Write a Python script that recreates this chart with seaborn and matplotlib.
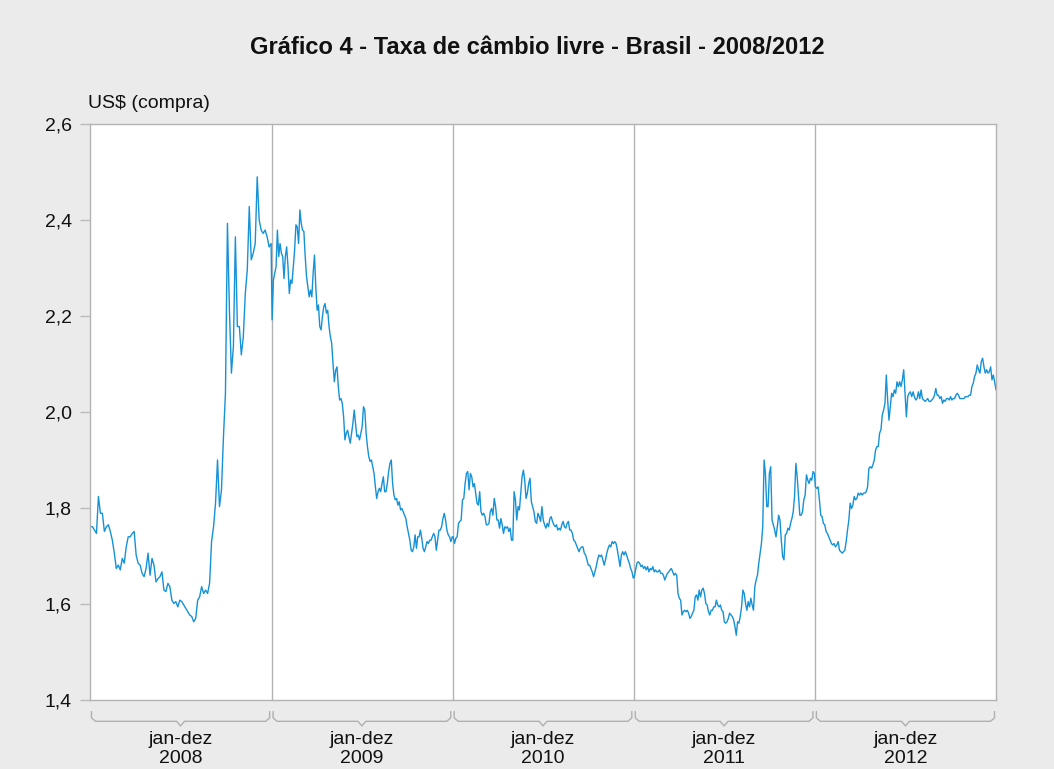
import numpy as np
import pandas as pd
import matplotlib
matplotlib.use("Agg")
import matplotlib.pyplot as plt
import seaborn as sns

# ---------------- data (R$/US$, compra) ----------------
years = [2008, 2009, 2010, 2011, 2012]
year_labels = ["2008", "2009", "2010", "2011", "2012"]
period_label = "jan-dez"

rate_2008 = [1.761, 1.761, 1.754, 1.747, 1.824, 1.789, 1.789, 1.751, 1.761, 1.765,
             1.751, 1.733, 1.706, 1.674, 1.681, 1.671, 1.695, 1.685, 1.719, 1.740,
             1.740, 1.747, 1.751, 1.702, 1.685, 1.681, 1.664, 1.657, 1.674, 1.706,
             1.660, 1.695, 1.681, 1.646, 1.653, 1.657, 1.667, 1.629, 1.626, 1.643,
             1.636, 1.608, 1.601, 1.605, 1.594, 1.608, 1.605, 1.598, 1.591, 1.584,
             1.577, 1.574, 1.563, 1.570, 1.608, 1.615, 1.636, 1.622, 1.629, 1.622,
             1.643, 1.730, 1.761, 1.810, 1.900, 1.803, 1.838, 1.949, 2.039, 2.393,
             2.212, 2.081, 2.136, 2.365, 2.178, 2.178, 2.119, 2.157, 2.247, 2.296,
             2.428, 2.317, 2.331, 2.351, 2.490, 2.400, 2.379, 2.372, 2.379, 2.365,
             2.344, 2.351]

rate_2009 = [2.192, 2.275, 2.289, 2.303, 2.379, 2.324, 2.351, 2.331, 2.324, 2.278,
             2.324, 2.344, 2.303, 2.247, 2.275, 2.268, 2.303, 2.337, 2.390, 2.386,
             2.351, 2.421, 2.393, 2.379, 2.376, 2.324, 2.282, 2.261, 2.240, 2.254,
             2.240, 2.289, 2.327, 2.261, 2.212, 2.223, 2.178, 2.171, 2.199, 2.219,
             2.226, 2.206, 2.212, 2.178, 2.157, 2.143, 2.101, 2.063, 2.087, 2.094,
             2.053, 2.025, 2.028, 2.018, 1.990, 1.942, 1.956, 1.962, 1.949, 1.935,
             1.956, 1.976, 2.004, 1.976, 1.949, 1.952, 1.942, 1.956, 1.969, 2.011,
             2.004, 1.956, 1.928, 1.907, 1.897, 1.900, 1.886, 1.872, 1.844, 1.820,
             1.834, 1.841, 1.834, 1.851, 1.865, 1.834, 1.834, 1.851, 1.876, 1.893,
             1.900, 1.851, 1.827, 1.817, 1.820, 1.806, 1.813, 1.796, 1.799, 1.792,
             1.785, 1.778, 1.761, 1.747, 1.733, 1.712, 1.709, 1.719, 1.744, 1.716,
             1.740, 1.740, 1.754, 1.737, 1.716, 1.709, 1.719, 1.730, 1.726, 1.733,
             1.733, 1.740, 1.747, 1.740, 1.712, 1.733, 1.754, 1.754, 1.761, 1.778,
             1.789, 1.775, 1.754, 1.744, 1.740, 1.730, 1.740]

rate_2010 = [1.740, 1.726, 1.737, 1.740, 1.768, 1.772, 1.775, 1.817, 1.820, 1.851,
             1.872, 1.876, 1.838, 1.872, 1.865, 1.844, 1.851, 1.831, 1.810, 1.806,
             1.834, 1.792, 1.785, 1.789, 1.782, 1.765, 1.765, 1.768, 1.792, 1.799,
             1.785, 1.820, 1.803, 1.775, 1.775, 1.758, 1.778, 1.765, 1.747, 1.761,
             1.758, 1.761, 1.751, 1.758, 1.733, 1.733, 1.834, 1.817, 1.775, 1.803,
             1.796, 1.831, 1.865, 1.879, 1.858, 1.820, 1.831, 1.851, 1.862, 1.813,
             1.803, 1.792, 1.772, 1.768, 1.789, 1.782, 1.772, 1.803, 1.775, 1.765,
             1.758, 1.768, 1.761, 1.778, 1.782, 1.772, 1.765, 1.761, 1.765, 1.754,
             1.758, 1.754, 1.765, 1.772, 1.761, 1.758, 1.768, 1.772, 1.754, 1.754,
             1.747, 1.733, 1.730, 1.723, 1.716, 1.709, 1.716, 1.719, 1.719, 1.706,
             1.702, 1.692, 1.681, 1.681, 1.674, 1.667, 1.657, 1.667, 1.678, 1.692,
             1.702, 1.699, 1.702, 1.692, 1.681, 1.692, 1.706, 1.716, 1.723, 1.719,
             1.730, 1.726, 1.730, 1.726, 1.712, 1.695, 1.678, 1.702, 1.709, 1.702,
             1.709, 1.702, 1.692, 1.685, 1.674, 1.667, 1.654]

rate_2011 = [1.657, 1.671, 1.685, 1.688, 1.685, 1.678, 1.681, 1.674, 1.678, 1.671,
             1.678, 1.667, 1.674, 1.671, 1.678, 1.667, 1.671, 1.667, 1.667, 1.671,
             1.664, 1.664, 1.660, 1.650, 1.657, 1.664, 1.667, 1.671, 1.674, 1.667,
             1.660, 1.664, 1.660, 1.622, 1.612, 1.608, 1.577, 1.584, 1.587, 1.584,
             1.587, 1.581, 1.570, 1.574, 1.581, 1.587, 1.615, 1.619, 1.608, 1.629,
             1.615, 1.629, 1.633, 1.622, 1.601, 1.598, 1.584, 1.577, 1.587, 1.587,
             1.594, 1.594, 1.608, 1.598, 1.594, 1.598, 1.587, 1.584, 1.563, 1.560,
             1.563, 1.570, 1.581, 1.577, 1.574, 1.567, 1.553, 1.535, 1.563, 1.560,
             1.574, 1.594, 1.629, 1.622, 1.601, 1.587, 1.605, 1.594, 1.612, 1.598,
             1.587, 1.636, 1.650, 1.660, 1.685, 1.706, 1.726, 1.761, 1.900, 1.872,
             1.803, 1.803, 1.872, 1.886, 1.775, 1.765, 1.754, 1.740, 1.761, 1.785,
             1.775, 1.733, 1.699, 1.692, 1.744, 1.747, 1.758, 1.754, 1.768, 1.778,
             1.792, 1.824, 1.893, 1.865, 1.824, 1.785, 1.785, 1.792, 1.817, 1.827,
             1.869, 1.858, 1.851, 1.862, 1.858, 1.876, 1.872]

rate_2012 = [1.844, 1.841, 1.844, 1.817, 1.785, 1.782, 1.768, 1.765, 1.751, 1.747,
             1.740, 1.733, 1.726, 1.723, 1.726, 1.719, 1.723, 1.730, 1.712, 1.709,
             1.706, 1.709, 1.712, 1.730, 1.754, 1.775, 1.810, 1.799, 1.806, 1.824,
             1.817, 1.820, 1.831, 1.827, 1.831, 1.827, 1.831, 1.831, 1.834, 1.844,
             1.883, 1.886, 1.883, 1.890, 1.900, 1.921, 1.928, 1.928, 1.956, 1.963,
             1.994, 2.004, 2.018, 2.077, 2.025, 1.983, 2.011, 2.039, 2.032, 2.046,
             2.039, 2.063, 2.053, 2.063, 2.053, 2.067, 2.088, 2.039, 1.990, 2.032,
             2.039, 2.042, 2.032, 2.042, 2.032, 2.025, 2.028, 2.042, 2.028, 2.046,
             2.028, 2.025, 2.022, 2.025, 2.028, 2.022, 2.022, 2.025, 2.028, 2.035,
             2.049, 2.035, 2.035, 2.028, 2.032, 2.018, 2.025, 2.022, 2.028, 2.028,
             2.025, 2.032, 2.025, 2.028, 2.028, 2.035, 2.039, 2.035, 2.028, 2.028,
             2.028, 2.028, 2.032, 2.032, 2.032, 2.035, 2.035, 2.053, 2.060, 2.074,
             2.081, 2.098, 2.088, 2.081, 2.105, 2.112, 2.094, 2.081, 2.088, 2.081,
             2.084, 2.094, 2.067, 2.077, 2.063, 2.046]

rates_by_year = [rate_2008, rate_2009, rate_2010, rate_2011, rate_2012]

y_ticks = [1.4, 1.6, 1.8, 2.0, 2.2, 2.4, 2.6]
y_tick_labels = ["1,4", "1,6", "1,8", "2,0", "2,2", "2,4", "2,6"]

title = "Gráfico 4 - Taxa de câmbio livre - Brasil - 2008/2012"
unit_label = "US$ (compra)"

# ---------------- build the frame ----------------
frames = []
for yr, vals in zip(years, rates_by_year):
    d = pd.date_range(f"{yr}-01-02", f"{yr}-12-31", periods=len(vals))
    frames.append(pd.DataFrame({"data": d, "taxa": vals}))
df = pd.concat(frames, ignore_index=True)

# ---------------- style ----------------
sns.set_theme(style="white")
plt.rcParams["font.family"] = ["Liberation Sans", "DejaVu Sans"]

BG = "#ebebeb"
GRID = "#b3b3b3"
LINE = "#1592d6"
TXT = "#111111"

fig = plt.figure(figsize=(10.54, 7.69), dpi=100, facecolor=BG)
ax = fig.add_axes([90 / 1054, 69 / 769, 906 / 1054, 576 / 769])
ax.set_facecolor("white")

sns.lineplot(data=df, x="data", y="taxa", ax=ax, color=LINE, linewidth=1.0)

x0 = pd.Timestamp("2008-01-01")
x1 = pd.Timestamp("2012-12-31")
ax.set_xlim(x0, x1)
ax.set_ylim(1.4, 2.6)

# year separators
for yr in years[1:]:
    ax.axvline(pd.Timestamp(f"{yr}-01-01"), color=GRID, linewidth=1.0, zorder=1)

for s in ax.spines.values():
    s.set_color(GRID)
    s.set_linewidth(1.0)

ax.set_yticks(y_ticks)
ax.set_yticklabels(y_tick_labels, fontsize=14, color=TXT)
ax.tick_params(axis="y", which="both", left=True, length=7, width=1.0,
               color="#bdbdbd", pad=6)
ax.set_xticks([])
ax.set_xlabel("")
ax.set_ylabel("")

fig.text(537 / 1054, 1 - 48 / 769, title, ha="center", va="center",
         fontsize=17, fontweight="bold", color=TXT)
fig.text(88 / 1054, 1 - 103 / 769, unit_label, ha="left", va="center",
         fontsize=14, color=TXT)

# curly braces below each year + labels
trans = ax.get_xaxis_transform()
yt, ym, yb = -0.020, -0.037, -0.045
brace_col = "#b0b0b0"
for yr, lab in zip(years, year_labels):
    a = pd.Timestamp(f"{yr}-01-01") + pd.Timedelta(days=3)
    b = pd.Timestamp(f"{yr}-12-31") - pd.Timedelta(days=3)
    c = a + (b - a) / 2
    r = pd.Timedelta(days=8)
    xs = [a, a, a + r, c - r, c, c + r, b - r, b, b]
    ys = [yt, ym + 0.006, ym, ym, yb, ym, ym, ym + 0.006, yt]
    ax.plot(xs, ys, transform=trans, color=brace_col, linewidth=1.0,
            clip_on=False, solid_joinstyle="round")
    ax.text(c, -0.068, period_label, transform=trans, ha="center", va="center",
            fontsize=14, color=TXT)
    ax.text(c, -0.102, lab, transform=trans, ha="center", va="center",
            fontsize=14, color=TXT)

fig.savefig("out.png", dpi=100, facecolor=BG)
